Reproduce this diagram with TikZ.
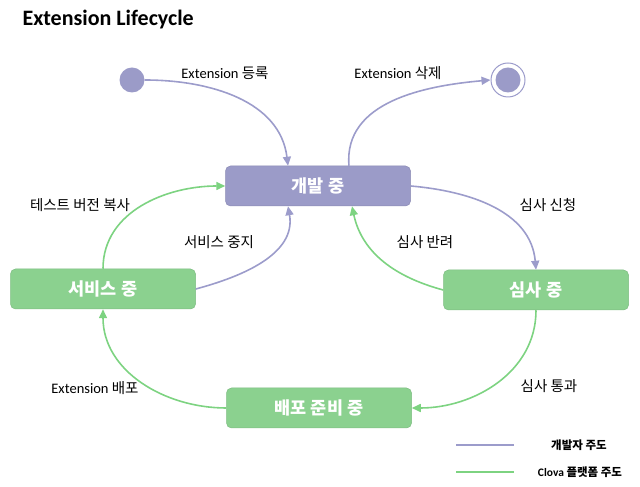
\documentclass[tikz,border=0pt]{standalone}
\usepackage{fontspec}
\setmainfont{Carlito}
\newfontfamily\kr{Noto Sans CJK KR}
\usetikzlibrary{arrows.meta}
\definecolor{pur}{HTML}{9B9BC8}
\definecolor{purl}{HTML}{9C9CCB}
\definecolor{grn}{HTML}{8BD18F}
\definecolor{grnl}{HTML}{7DD381}
\begin{document}
\begin{tikzpicture}[x=1pt,y=1pt,
  state/.style={rounded corners=5pt, minimum width=185pt, minimum height=40pt, text=white, font=\kr\bfseries\fontsize{17.5}{19}\selectfont, inner sep=0pt},
  devst/.style={state, fill=pur, draw=pur!90!black, line width=0.5pt},
  clst/.style={state, fill=grn, draw=grn!90!black, line width=0.5pt},
  parr/.style={draw=purl, line width=1.6pt, -{Triangle[length=9pt,width=8pt]}},
  garr/.style={draw=grnl, line width=1.6pt, -{Triangle[length=9pt,width=8pt]}},
  lbl/.style={font=\fontsize{14.5}{16}\selectfont, inner sep=0pt}]
\useasboundingbox (0,0) rectangle (640,487);
\node[anchor=west, font=\bfseries\fontsize{22}{24}\selectfont] (title) at (19,467) {Extension Lifecycle};
\node[devst] (dev) at (318,301) {개발 중};
\node[clst] (rev) at (536,197) {심사 중};
\node[clst] (svc) at (103,198) {서비스 중};
\node[clst] (dep) at (319,79) {배포 준비 중};
\node[circle, fill=pur, minimum size=25pt, inner sep=0pt] (start) at (132,407) {};
\node[circle, draw=purl, line width=1pt, fill=white, minimum size=34pt, inner sep=0pt] (endst) at (508,407) {};
\node[circle, fill=pur, minimum size=25pt, inner sep=0pt] (endin) at (508,407) {};
% edges
\draw[parr] (start.east) to[out=0,in=97] ([xshift=-30pt]dev.north);
\draw[parr] ([xshift=31pt]dev.north) to[out=95,in=185] (endst.west);
\draw[parr] (dev.east) to[out=-5,in=95] (rev.north);
\draw[garr] (rev.west) to[out=165,in=-78] ([xshift=34pt]dev.south);
\draw[garr] (rev.south) to[out=-90,in=0] (dep.east);
\draw[garr] (dep.west) to[out=180,in=-90] (svc.south);
\draw[garr] (svc.north) to[out=90,in=180] (dev.west);
\draw[parr] (svc.east) to[out=15,in=-80] ([xshift=-30pt]dev.south);
% labels
\node[lbl] (l1) at (225,414) {Extension {\kr 등록}};
\node[lbl] (l2) at (398,414) {Extension {\kr 삭제}};
\node[lbl] (l3) at (548,282) {\kr 심사 신청};
\node[lbl] (l4) at (425,245) {\kr 심사 반려};
\node[lbl] (l5) at (219,245) {\kr 서비스 중지};
\node[lbl] (l6) at (80,282) {\kr 테스트 버전 복사};
\node[lbl] (l7) at (95,99) {Extension {\kr 배포}};
\node[lbl] (l8) at (549,101) {\kr 심사 통과};
% legend
\coordinate (la1) at (456,42); \coordinate (lb1) at (514,42);
\coordinate (la2) at (456,15); \coordinate (lb2) at (514,15);
\draw[draw=purl, line width=1.6pt] (la1) -- (lb1);
\draw[draw=grnl, line width=1.6pt] (la2) -- (lb2);
\node[lbl, font=\kr\bfseries\fontsize{11.5}{13}\selectfont] (lg1) at (579,42) {개발자 주도};
\node[lbl, font=\fontsize{11.5}{13}\selectfont\bfseries] (lg2) at (580,15) {Clova {\kr 플랫폼 주도}};
\end{tikzpicture}
\end{document}
